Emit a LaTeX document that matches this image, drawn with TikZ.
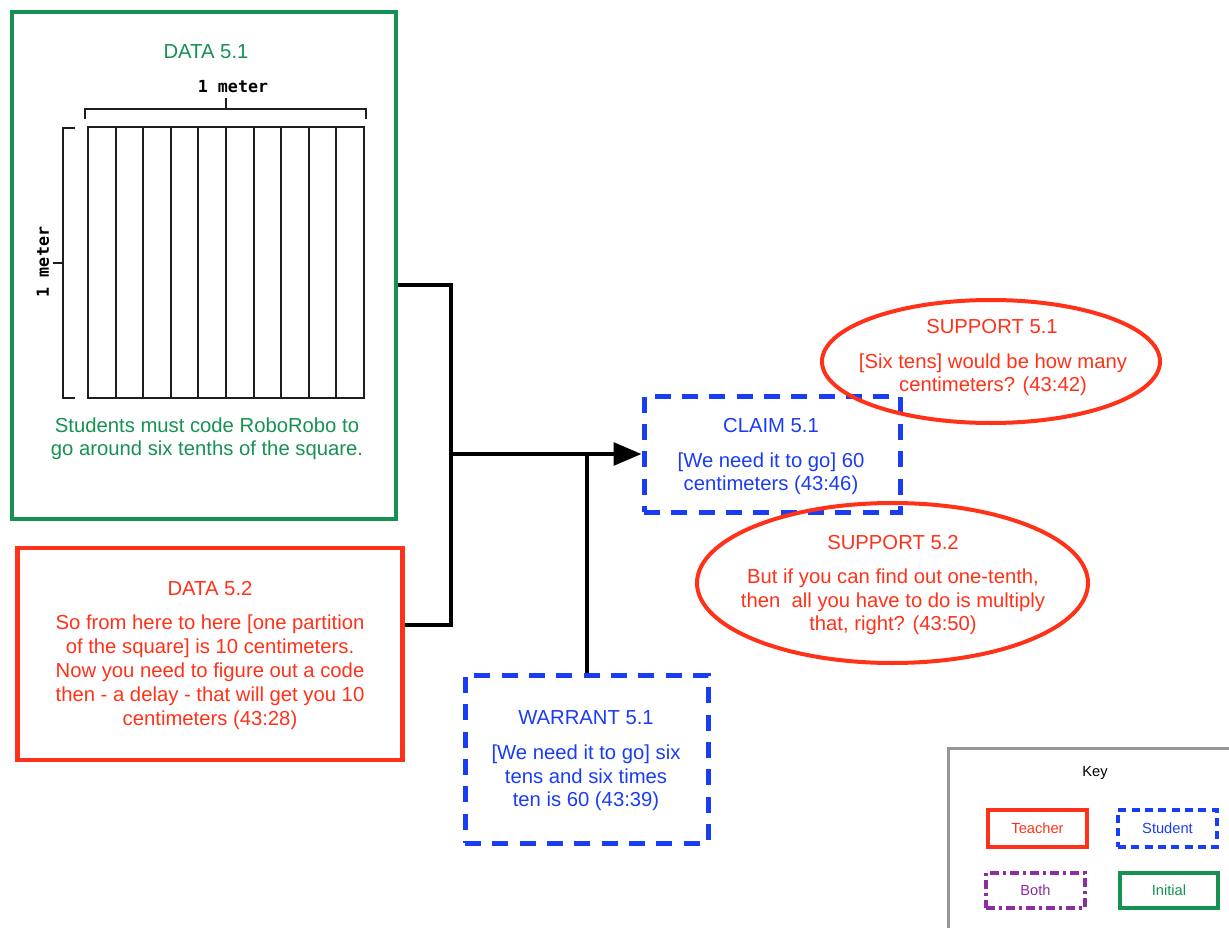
\documentclass[tikz,border=0pt]{standalone}
\usepackage{fontspec}
\setmainfont{Liberation Sans}
\newfontfamily\handfont{DejaVu Sans Mono}
\usetikzlibrary{shapes.geometric,arrows.meta}

\definecolor{initgreen}{RGB}{22,145,82}
\definecolor{teachred}{RGB}{255,50,25}
\definecolor{studblue}{RGB}{25,60,245}
\definecolor{bothpurple}{RGB}{140,45,160}
\definecolor{keygray}{RGB}{150,150,150}
\definecolor{inkblack}{RGB}{30,30,30}

\tikzset{
  % pixel-like units, y axis pointing down
  x=0.75pt, y=-0.75pt,
  box/.style n args={2}{rectangle, inner sep=0pt,
    minimum width=#1*0.75pt, minimum height=#2*0.75pt},
  initialbox/.style={draw=initgreen, line width=3.4pt},
  teacherbox/.style={draw=teachred, line width=3.4pt},
  studentbox/.style={draw=studblue, line width=3.75pt,
    dash pattern=on 12pt off 8.5pt},
  supportell/.style={ellipse, draw=teachred, line width=3pt, inner sep=0pt},
  lbl/.style={font=\fontsize{15.2}{17.6}\selectfont, align=center, inner sep=0pt},
  keylbl/.style={font=\fontsize{11}{13}\selectfont, inner sep=0pt},
  link/.style={line width=3pt, black},
  gridline/.style={line width=1.4pt, inkblack},
  bracketline/.style={line width=1.4pt, inkblack},
}

\begin{document}
\begin{tikzpicture}
\useasboundingbox (0,0) rectangle (1229,928);

% ---------- DATA 5.1 ----------
\node[box={384}{507}, initialbox] (d1) at (204,265.5) {};
\node[lbl, text=initgreen] (d1title) at (206,52) {DATA 5.1};
\node[lbl, text=initgreen] (d1body) at (207,438.5)
  {Students must code RoboRobo to\\go around six tenths of the square.};

% the metre square cut into ten strips
\draw[gridline] (88,127) rectangle (364,398);
\foreach \i in {1,...,9}
  \draw[gridline] ({88+27.6*\i},127) -- ({88+27.6*\i},398);

% dimension brackets
\draw[bracketline] (85,119) -- (85,109) -- (366,109) -- (366,119);
\draw[bracketline] (226,109) -- (226,98);
\draw[bracketline] (75,128) -- (63,128) -- (63,398) -- (75,398);
\draw[bracketline] (63,263) -- (53,263);
\node[font=\handfont\bfseries\fontsize{12.5}{14}\selectfont, inner sep=0pt]
  (toplen) at (233,87) {1 meter};
\node[font=\handfont\bfseries\fontsize{12.5}{14}\selectfont, inner sep=0pt,
  rotate=90] (sidelen) at (43,262) {1 meter};

% ---------- DATA 5.2 ----------
\node[box={385}{212}, teacherbox] (d2) at (210,654) {};
\node[lbl, text=teachred] (d2title) at (210,589) {DATA 5.2};
\node[lbl, text=teachred, font=\fontsize{15.2}{18}\selectfont] (d2body) at (210,672.5)
  {So from here to here [one partition\\of the square] is 10 centimeters.\\
   Now you need to figure out a code\\then - a delay - that will get you 10\\
   centimeters (43:28)};

% ---------- CLAIM 5.1 ----------
\node[box={256}{116}, studentbox] (claim) at (772,454) {};
\node[lbl, text=studblue] (claimtitle) at (771,426) {CLAIM 5.1};
\node[lbl, text=studblue] (claimbody) at (771,473.5)
  {[We need it to go] 60\\centimeters (43:46)};

% ---------- WARRANT 5.1 ----------
\node[box={243}{168}, studentbox] (warrant) at (586.5,759) {};
\node[lbl, text=studblue] (warranttitle) at (586,718) {WARRANT 5.1};
\node[lbl, text=studblue] (warrantbody) at (586,778)
  {[We need it to go] six\\tens and six times\\ten is 60 (43:39)};

% ---------- SUPPORT 5.1 ----------
\node[supportell, minimum width=338*0.75pt, minimum height=123*0.75pt]
  (sup1) at (991,361.5) {};
\node[lbl, text=teachred] (sup1title) at (992,327) {SUPPORT 5.1};
\node[lbl, text=teachred] (sup1body) at (993,375)
  {[Six tens] would be how many\\centimeters? (43:42)};

% ---------- SUPPORT 5.2 ----------
\node[supportell, minimum width=391*0.75pt, minimum height=160*0.75pt]
  (sup2) at (892.5,583) {};
\node[lbl, text=teachred] (sup2title) at (893,543) {SUPPORT 5.2};
\node[lbl, text=teachred] (sup2body) at (893,602)
  {But if you can find out one-tenth,\\then\ \ all you have to do is multiply\\that, right? (43:50)};

% ---------- connectors ----------
\coordinate (j1) at (451,285);
\coordinate (j2) at (451,625);
\coordinate (jm) at (451,454);
\draw[link] (d1.east |- j1) -- (j1) -- (j2) -- (d2.east |- j2);
\draw[link, -{Triangle[length=21pt,width=17pt]}] (jm) -- (claim.west);
\draw[link] (warrant.north) -- (warrant.north |- jm);

% ---------- key ----------
\node[box={292}{192}, draw=keygray, line width=2.25pt] (keybox) at (1094,844) {};
\node[keylbl] (keytitle) at (1095,773) {Key};
\node[box={99}{37}, draw=teachred, line width=2.4pt, keylbl, text=teachred]
  (kteacher) at (1037.5,828.5) {Teacher};
\node[box={99}{37}, draw=studblue, line width=2.4pt, dash pattern=on 6pt off 4pt,
  keylbl, text=studblue] (kstudent) at (1167.5,828.5) {Student};
\node[box={99}{35}, draw=bothpurple, line width=2.4pt,
  dash pattern=on 7pt off 3pt on 2pt off 3pt, keylbl, text=bothpurple]
  (kboth) at (1035.5,890.5) {Both};
\node[box={98}{35}, draw=initgreen, line width=2.4pt, keylbl, text=initgreen]
  (kinitial) at (1169,890.5) {Initial};
\end{tikzpicture}
\end{document}
